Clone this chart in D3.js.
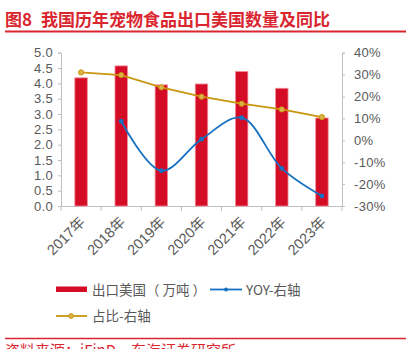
<!DOCTYPE html>
<html><head><meta charset="utf-8">
<script src="https://cdn.jsdelivr.net/npm/d3@7"></script>
<style>
body{margin:0;background:#fff;}
svg{display:block;font-family:"Liberation Sans",Arial,"Noto Sans CJK SC",sans-serif;}
</style></head>
<body><div id="chart"></div>
<script>
const categories = ["2017年","2018年","2019年","2020年","2021年","2022年","2023年"];
const exportVolume = [4.18,4.57,3.95,3.98,4.39,3.84,2.87];
const yoy = [null,8.7,-13.9,0.5,10.3,-12.8,-25.4];
const share = [31.0,29.8,24.2,19.9,16.7,14.1,10.6];
const leftTicks = [0,0.5,1,1.5,2,2.5,3,3.5,4,4.5,5];
const rightTicks = [-30,-20,-10,0,10,20,30,40];

const W=411,H=349;
const svg=d3.select("#chart").append("svg").attr("width",W).attr("height",H);
const red="#d9262f", gray="#595959", axisGray="#bfbfbf";

const title=svg.append("text").attr("x",5).attr("y",26).attr("fill",red)
  .attr("font-size",17).attr("font-weight","bold")
  .attr("font-family","'Noto Sans CJK SC',sans-serif");
title.append("tspan").text("图8");
title.append("tspan").attr("dx",9).text("我国历年宠物食品出口美国数量及同比");
svg.append("line").attr("x1",5).attr("x2",406).attr("y1",31.5).attr("y2",31.5)
  .attr("stroke",red).attr("stroke-width",2);

const x=d3.scaleBand().domain(categories).range([61,342]);
const yL=d3.scaleLinear().domain([0,5]).range([206,52.7]);
const yR=d3.scaleLinear().domain([-30,40]).range([206,52.7]);

// axes
const gL=svg.append("g").attr("transform","translate(61,0)")
  .call(d3.axisLeft(yL).tickValues(leftTicks).tickFormat(d3.format(".1f")).tickSize(3).tickPadding(5));
const gR=svg.append("g").attr("transform","translate(342,0)")
  .call(d3.axisRight(yR).tickValues(rightTicks).tickFormat(d=>d+"%").tickSize(3).tickPadding(9));
const gX=svg.append("g").attr("transform","translate(0,206)")
  .call(d3.axisBottom(x).tickSize(0).tickFormat(""));
const bounds=categories.map(c=>x(c)).concat([x.range()[1]]);
gX.selectAll(".bt").data(bounds).enter().append("line")
  .attr("x1",d=>d).attr("x2",d=>d).attr("y1",0).attr("y2",5).attr("stroke",axisGray);
[gL,gR,gX].forEach(g=>{
  g.select(".domain").attr("stroke",axisGray);
  g.selectAll(".tick line").attr("stroke",axisGray);
  g.selectAll("text").attr("fill",gray).attr("font-size",13).attr("letter-spacing","0.3px");
});
// x labels
svg.append("g").selectAll("text").data(categories).enter().append("text")
  .attr("transform",d=>`translate(${x(d)+x.bandwidth()/2+5},${223}) rotate(-45)`)
  .attr("text-anchor","end").attr("fill",gray).attr("font-size",14.5)
  .attr("font-family","'Liberation Sans','Noto Sans CJK SC',sans-serif")
  .text(d=>d);

// bars
const bw=12.5;
svg.append("g").selectAll("rect").data(exportVolume).enter().append("rect")
  .attr("x",(d,i)=>x(categories[i])+x.bandwidth()/2-bw/2)
  .attr("width",bw).attr("y",d=>yL(d)).attr("height",d=>yL(0)-yL(d))
  .attr("fill","#d50c26").attr("stroke","#f2909c").attr("stroke-width",0.8);

const cx=i=>x(categories[i])+x.bandwidth()/2;
// share line
const shareLine=d3.line().x((d,i)=>cx(i)).y(d=>yR(d));
svg.append("path").datum(share).attr("d",shareLine).attr("fill","none")
  .attr("stroke","#c9970e").attr("stroke-width",1.8);
svg.append("g").selectAll("circle").data(share).enter().append("circle")
  .attr("cx",(d,i)=>cx(i)).attr("cy",d=>yR(d)).attr("r",2.6)
  .attr("fill","#dcb24a").attr("stroke","#c9970e").attr("stroke-width",1);

// yoy line
const yoyData=yoy.map((v,i)=>({v,i})).filter(d=>d.v!==null);
const yoyLine=d3.line().x(d=>cx(d.i)).y(d=>yR(d.v)).curve(d3.curveCatmullRom.alpha(0.5));
svg.append("path").datum(yoyData).attr("d",yoyLine).attr("fill","none")
  .attr("stroke","#1570c2").attr("stroke-width",1.8);
svg.append("g").selectAll("circle").data(yoyData).enter().append("circle")
  .attr("cx",d=>cx(d.i)).attr("cy",d=>yR(d.v)).attr("r",2.4).attr("fill","#1570c2");

// legend
const lg=svg.append("g").attr("font-size",13.5).attr("fill",gray)
  .attr("font-family","'Noto Sans CJK SC',sans-serif");
lg.append("rect").attr("x",56).attr("y",286.5).attr("width",31).attr("height",5.5).attr("fill","#d50c26");
lg.append("text").attr("x",92).attr("y",294.5).attr("fill",gray).text("出口美国（ 万吨 ）");
lg.append("line").attr("x1",210).attr("x2",242).attr("y1",289.5).attr("y2",289.5).attr("stroke","#1570c2").attr("stroke-width",1.8);
lg.append("circle").attr("cx",226).attr("cy",289.5).attr("r",2).attr("fill","#1570c2");
lg.append("text").attr("x",246).attr("y",294.5).attr("fill",gray).text("YOY-右轴");
lg.append("line").attr("x1",56).attr("x2",87).attr("y1",316).attr("y2",316).attr("stroke","#c9970e").attr("stroke-width",1.8);
lg.append("circle").attr("cx",71).attr("cy",316).attr("r",2.4).attr("fill","#dcb24a").attr("stroke","#c9970e");
lg.append("text").attr("x",92).attr("y",321).attr("fill",gray).text("占比-右轴");

// source
svg.append("line").attr("x1",5).attr("x2",406).attr("y1",338.5).attr("y2",338.5)
  .attr("stroke",red).attr("stroke-width",1.5);
svg.append("text").attr("x",5).attr("y",356).attr("fill",red).attr("font-size",15)
  .attr("font-family","'Noto Sans CJK SC',sans-serif")
  .text("资料来源：iFinD，东海证券研究所");
</script></body></html>
